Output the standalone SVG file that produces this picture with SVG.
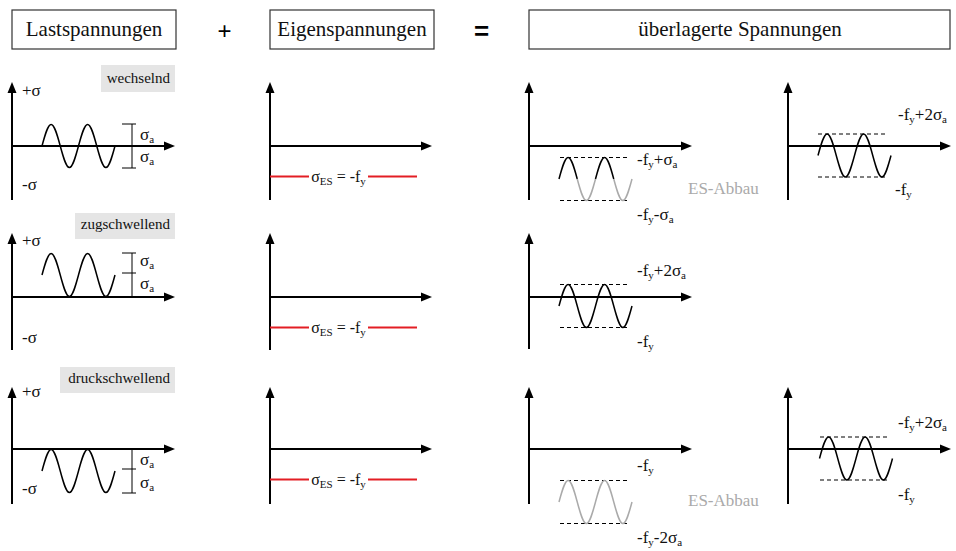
<svg xmlns="http://www.w3.org/2000/svg" width="956" height="551" viewBox="0 0 956 551">
<style>
.t{font-family:'Liberation Serif','DejaVu Serif',serif;fill:#111}
.h{font-size:21px;text-anchor:middle}
.l{font-size:17px}
.eq{font-size:16px;text-anchor:middle}
.tag{font-size:15px;text-anchor:end}
.s{font-size:11px}
.g{fill:#aaa}
.box{fill:#fff;stroke:#333;stroke-width:1.2}
.tagbg{fill:#e5e5e5}
.ax{stroke:#000;stroke-width:2;fill:none}
.w{stroke:#000;stroke-width:1.5;fill:none}
.wg{stroke:#aaa;stroke-width:1.5;fill:none}
.d{stroke:#000;stroke-width:1;stroke-dasharray:4 3;fill:none}
.red{stroke:#e31e24;stroke-width:2;fill:none}
.dim{stroke:#000;stroke-width:1;fill:none}
.op{font-family:'Liberation Sans',Arial,sans-serif;text-anchor:middle;fill:#000}
</style>
<defs>
<marker id="ah" markerUnits="userSpaceOnUse" markerWidth="12" markerHeight="10" refX="6" refY="5" orient="auto" viewBox="0 0 12 10"><path d="M0,0.5 L11,5 L0,9.5 z" fill="#000"/></marker>
<path id="hump" d="M0,0 C2.975,-11.01 5.822,-21.5 9.125,-21.5 C12.428,-21.5 15.275,-11.01 18.25,0"/>
<path id="dip" d="M0,0 C2.975,11.01 5.822,21.5 9.125,21.5 C12.428,21.5 15.275,11.01 18.25,0"/>
<path id="wave" d="M0,0 C2.975,-11.01 5.822,-21.5 9.125,-21.5 C12.428,-21.5 15.275,-11.01 18.25,0 C21.225,11.01 24.072,21.5 27.375,21.5 C30.678,21.5 33.525,11.01 36.5,0 C39.475,-11.01 42.322,-21.5 45.625,-21.5 C48.928,-21.5 51.775,-11.01 54.75,0 C57.725,11.01 60.572,21.5 63.875,21.5 C67.178,21.5 70.025,11.01 73,0"/>
</defs>

<g id="header-last">
<rect class="box" x="12" y="10" width="164" height="39"/>
<text class="t h" x="94" y="36" font-family="Liberation Serif, serif">Lastspannungen</text>
</g>
<g id="op-plus"><text class="op" x="224.5" y="39" font-size="24">+</text></g>
<g id="header-eigen">
<rect class="box" x="270" y="10" width="164" height="39"/>
<text class="t h" x="352" y="36">Eigenspannungen</text>
</g>
<g id="op-equals"><text class="op" x="481.5" y="39.5" font-size="26" font-weight="bold">=</text></g>
<g id="header-ueberlagert">
<rect class="box" x="529" y="10" width="421" height="39"/>
<text class="t h" x="740" y="36">überlagerte Spannungen</text>
</g>

<!-- Row 1: wechselnd -->
<g id="last-wechselnd">
<rect class="tagbg" x="101" y="65" width="74" height="27"/>
<text class="t tag" x="170" y="83">wechselnd</text>
<path class="ax" d="M12,200 V87" marker-end="url(#ah)"/>
<path class="ax" d="M12,146 H170" marker-end="url(#ah)"/>
<text class="t l" x="22" y="96">+σ</text>
<text class="t l" x="22" y="190">-σ</text>
<use href="#wave" class="w" transform="translate(42,146)"/>
<path class="dim" d="M132,124 V168 M122,124 H136 M122,168 H136"/>
<text class="t l" x="140" y="140">σ<tspan class="s" dy="3">a</tspan></text>
<text class="t l" x="140" y="162">σ<tspan class="s" dy="3">a</tspan></text>
</g>
<g id="eigen-1">
<path class="ax" d="M270,200 V87" marker-end="url(#ah)"/>
<path class="ax" d="M270,146 H427" marker-end="url(#ah)"/>
<path class="red" d="M270,176.5 H309 M368,176.5 H417"/>
<text class="t eq" x="338.5" y="182">σ<tspan class="s" dy="3">ES</tspan><tspan dy="-3"> = -f</tspan><tspan class="s" dy="3">y</tspan></text>
</g>
<g id="sum-1a">
<path class="ax" d="M529,200 V87" marker-end="url(#ah)"/>
<path class="ax" d="M529,146 H687" marker-end="url(#ah)"/>
<path class="d" d="M560,157.5 H629 M560,200.5 H629"/>
<g transform="translate(559,179)">
<use href="#hump" class="w"/>
<use href="#dip" class="wg" x="18.25"/>
<use href="#hump" class="w" x="36.5"/>
<use href="#dip" class="wg" x="54.75"/>
</g>
<text class="t l" x="637" y="165">-f<tspan class="s" dy="3">y</tspan><tspan dy="-3">+σ</tspan><tspan class="s" dy="3">a</tspan></text>
<text class="t l" x="637" y="220">-f<tspan class="s" dy="3">y</tspan><tspan dy="-3">-σ</tspan><tspan class="s" dy="3">a</tspan></text>
<text class="t l g" x="688" y="194">ES-Abbau</text>
</g>
<g id="sum-1b">
<path class="ax" d="M788,200 V87" marker-end="url(#ah)"/>
<path class="ax" d="M788,146 H946" marker-end="url(#ah)"/>
<path class="d" d="M818,134 H887 M818,177 H887"/>
<use href="#wave" class="w" transform="translate(818,155.5)"/>
<text class="t l" x="898" y="120">-f<tspan class="s" dy="3">y</tspan><tspan dy="-3">+2σ</tspan><tspan class="s" dy="3">a</tspan></text>
<text class="t l" x="895" y="195">-f<tspan class="s" dy="3">y</tspan></text>
</g>

<!-- Row 2: zugschwellend -->
<g id="last-zugschwellend">
<rect class="tagbg" x="75" y="213" width="100" height="26"/>
<text class="t tag" x="170" y="229">zugschwellend</text>
<path class="ax" d="M12,350 V238" marker-end="url(#ah)"/>
<path class="ax" d="M12,297 H170" marker-end="url(#ah)"/>
<text class="t l" x="22" y="246">+σ</text>
<text class="t l" x="22" y="343">-σ</text>
<use href="#wave" class="w" transform="translate(42,275)"/>
<path class="dim" d="M132,253 V297 M122,253 H136 M122,273 H136"/>
<text class="t l" x="140" y="266">σ<tspan class="s" dy="3">a</tspan></text>
<text class="t l" x="140" y="289">σ<tspan class="s" dy="3">a</tspan></text>
</g>
<g id="eigen-2">
<path class="ax" d="M270,350 V238" marker-end="url(#ah)"/>
<path class="ax" d="M270,297 H427" marker-end="url(#ah)"/>
<path class="red" d="M270,327.5 H309 M368,327.5 H417"/>
<text class="t eq" x="338.5" y="333">σ<tspan class="s" dy="3">ES</tspan><tspan dy="-3"> = -f</tspan><tspan class="s" dy="3">y</tspan></text>
</g>
<g id="sum-2">
<path class="ax" d="M529,349 V238" marker-end="url(#ah)"/>
<path class="ax" d="M529,297 H687" marker-end="url(#ah)"/>
<path class="d" d="M560,284.5 H629 M560,327.5 H629"/>
<use href="#wave" class="w" transform="translate(559,306)"/>
<text class="t l" x="637" y="276">-f<tspan class="s" dy="3">y</tspan><tspan dy="-3">+2σ</tspan><tspan class="s" dy="3">a</tspan></text>
<text class="t l" x="637" y="347">-f<tspan class="s" dy="3">y</tspan></text>
</g>

<!-- Row 3: druckschwellend -->
<g id="last-druckschwellend">
<rect class="tagbg" x="60" y="367" width="115" height="26"/>
<text class="t tag" x="170" y="383">druckschwellend</text>
<path class="ax" d="M12,504 V392" marker-end="url(#ah)"/>
<path class="ax" d="M12,449 H170" marker-end="url(#ah)"/>
<text class="t l" x="22" y="397">+σ</text>
<text class="t l" x="22" y="494">-σ</text>
<use href="#wave" class="w" transform="translate(42,471)"/>
<path class="dim" d="M132,449 V493 M122,469 H136 M122,493 H136"/>
<text class="t l" x="140" y="465">σ<tspan class="s" dy="3">a</tspan></text>
<text class="t l" x="140" y="488">σ<tspan class="s" dy="3">a</tspan></text>
</g>
<g id="eigen-3">
<path class="ax" d="M270,504 V392" marker-end="url(#ah)"/>
<path class="ax" d="M270,449 H427" marker-end="url(#ah)"/>
<path class="red" d="M270,479.5 H309 M368,479.5 H417"/>
<text class="t eq" x="338.5" y="485">σ<tspan class="s" dy="3">ES</tspan><tspan dy="-3"> = -f</tspan><tspan class="s" dy="3">y</tspan></text>
</g>
<g id="sum-3a">
<path class="ax" d="M529,504 V392" marker-end="url(#ah)"/>
<path class="ax" d="M529,449 H687" marker-end="url(#ah)"/>
<path class="d" d="M560,480.5 H629 M560,523.5 H629"/>
<use href="#wave" class="wg" transform="translate(559,502)"/>
<text class="t l" x="637" y="471">-f<tspan class="s" dy="3">y</tspan></text>
<text class="t l" x="637" y="543">-f<tspan class="s" dy="3">y</tspan><tspan dy="-3">-2σ</tspan><tspan class="s" dy="3">a</tspan></text>
<text class="t l g" x="688" y="506">ES-Abbau</text>
</g>
<g id="sum-3b">
<path class="ax" d="M788,504 V392" marker-end="url(#ah)"/>
<path class="ax" d="M788,449 H946" marker-end="url(#ah)"/>
<path class="d" d="M820,437 H890 M820,480 H890"/>
<use href="#wave" class="w" transform="translate(819.5,458.5)"/>
<text class="t l" x="898" y="428">-f<tspan class="s" dy="3">y</tspan><tspan dy="-3">+2σ</tspan><tspan class="s" dy="3">a</tspan></text>
<text class="t l" x="898" y="500">-f<tspan class="s" dy="3">y</tspan></text>
</g>
<g id="connectors"/>
</svg>
